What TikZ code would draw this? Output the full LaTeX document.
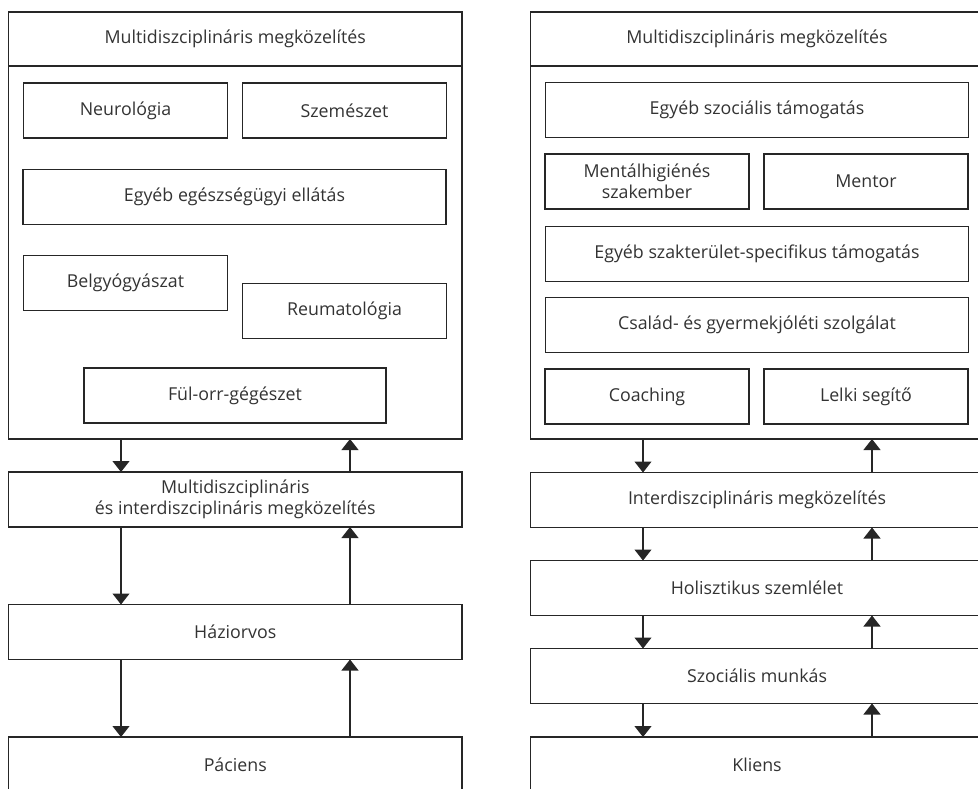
\documentclass[tikz,border=0pt]{standalone}
\usepackage{fontspec}
\setmainfont{Open Sans}
\usetikzlibrary{positioning,arrows.meta}
\tikzset{
  box/.style={draw=black!85, line width=1.1pt, text=black!80, inner sep=0pt, outer sep=0pt,
    align=center, font=\fontsize{17.8}{21}\selectfont},
  wide/.style={box, minimum width=453.5pt, minimum height=55pt},
  half/.style={box, minimum width=204pt, minimum height=55pt},
  full/.style={box, minimum width=423pt, minimum height=55pt},
  arr/.style={draw=black!85, line width=1.1pt, -{Triangle[width=17pt,length=11pt]}},
}
\begin{document}
\begin{tikzpicture}[x=1pt,y=-1pt]
\path[use as bounding box, clip] (0,0) rectangle (978,788);

% egeszsegugyi oldal
\node[wide, minimum height=54pt] (lhead) at (235.25,39) {Multidiszciplináris megközelítés};
\node[wide, minimum height=373pt, below=0pt of lhead] (lpanel) {};
\node[half] (neuro) at (125.5,110.5) {Neurológia};
\node[half, right=15pt of neuro] (szem) {Szemészet};
\node[full] (egyeb) at (234.5,197) {Egyéb egészségügyi ellátás};
\node[half] (belgy) at (125.5,283) {Belgyógyászat};
\node[half] (reuma) at (344.5,311) {Reumatológia};
\node[box, minimum width=302pt, minimum height=55pt] (fog) at (235,395.5) {Fül-orr-gégészet};
\node[wide] (lmulti) at (235.25,499.5) {Multidiszciplináris\\és interdiszciplináris megközelítés};
\node[wide] (haziorv) at (235.25,632) {Háziorvos};
\node[wide] (paciens) at (235.25,764.5) {Páciens};

% szocialis oldal
\node[wide, minimum height=54pt] (rhead) at (757,39) {Multidiszciplináris megközelítés};
\node[wide, minimum height=373pt, below=0pt of rhead] (rpanel) {};
\node[full] (szoc) at (757,110) {Egyéb szociális támogatás};
\node[half] (mental) at (647,181.5) {Mentálhigiénés\\szakember};
\node[half, right=15pt of mental] (mentor) {Mentor};
\node[full] (szakter) at (757,254) {Egyéb szakterület-specifikus támogatás};
\node[full] (csalad) at (757,325) {Család- és gyermekjóléti szolgálat};
\node[half] (coach) at (647,396.5) {Coaching};
\node[half, right=15pt of coach] (lelki) {Lelki segítő};
\node[wide] (inter) at (757,500) {Interdiszciplináris megközelítés};
\node[wide] (holi) at (757,588) {Holisztikus szemlélet};
\node[wide] (szocm) at (757,676) {Szociális munkás};
\node[wide] (kliens) at (757,764.5) {Kliens};

% nyilak
\coordinate (ldn) at (121,0);
\coordinate (lup) at (350,0);
\coordinate (rdn) at (643,0);
\coordinate (rup) at (872,0);
\foreach \a/\b in {lpanel/lmulti, lmulti/haziorv, haziorv/paciens}{
  \draw[arr] (\a.south -| ldn) -- (\b.north -| ldn);
  \draw[arr] (\b.north -| lup) -- (\a.south -| lup);
}
\foreach \a/\b in {rpanel/inter, inter/holi, holi/szocm, szocm/kliens}{
  \draw[arr] (\a.south -| rdn) -- (\b.north -| rdn);
  \draw[arr] (\b.north -| rup) -- (\a.south -| rup);
}
\end{tikzpicture}
\end{document}
